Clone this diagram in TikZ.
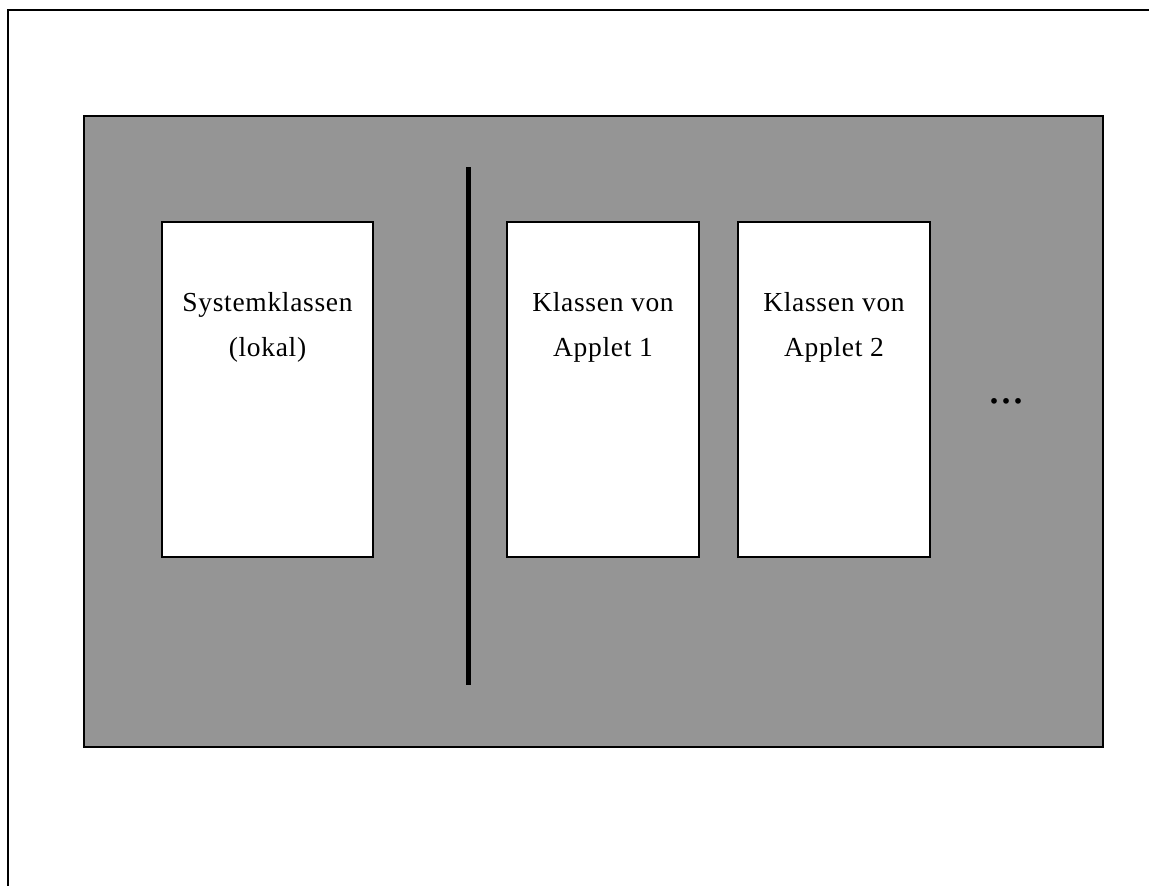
\documentclass[tikz,border=0pt]{standalone}
\usepackage{fontspec}
\setmainfont{Liberation Serif}
\begin{document}
\begin{tikzpicture}[x=1pt,y=-1pt,
  frameline/.style={line width=2.2pt,black},
  panel/.style={draw=black,line width=2.2pt,fill=panelgray},
  classbox/.style={draw=black,line width=1.4pt,fill=white},
  lbl/.style={font=\fontsize{27.5}{45}\selectfont\addfontfeatures{LetterSpace=2.5},align=center,anchor=base,inner sep=0pt},
  divider/.style={line width=5pt,black}]
\definecolor{panelgray}{HTML}{959595}
\useasboundingbox (0,0) rectangle (1149,886);
\fill[white] (0,0) rectangle (1149,886);
\coordinate (ftr) at (1149,10);
\coordinate (ftl) at (8,10);
\coordinate (fbl) at (8,886);
\draw[frameline] (ftr) -- (ftl) -- (fbl);
\draw[panel] (84,116) rectangle (1103,747);
\draw[classbox] (162,222) rectangle (373,557);
\draw[classbox] (507,222) rectangle (699,557);
\draw[classbox] (738,222) rectangle (930,557);
\coordinate (dtop) at (468,167);
\coordinate (dbot) at (468,685);
\draw[divider] (dtop) -- (dbot);
\node[lbl] (sys) at (267.5,356) {Systemklassen\\(lokal)};
\node[lbl] (ap1) at (603,356) {Klassen von\\Applet 1};
\node[lbl] (ap2) at (834,356) {Klassen von\\Applet 2};
\node[font=\fontsize{48}{50}\selectfont,anchor=base,inner sep=0pt] (dots) at (1006,403) {...};
\end{tikzpicture}
\end{document}
